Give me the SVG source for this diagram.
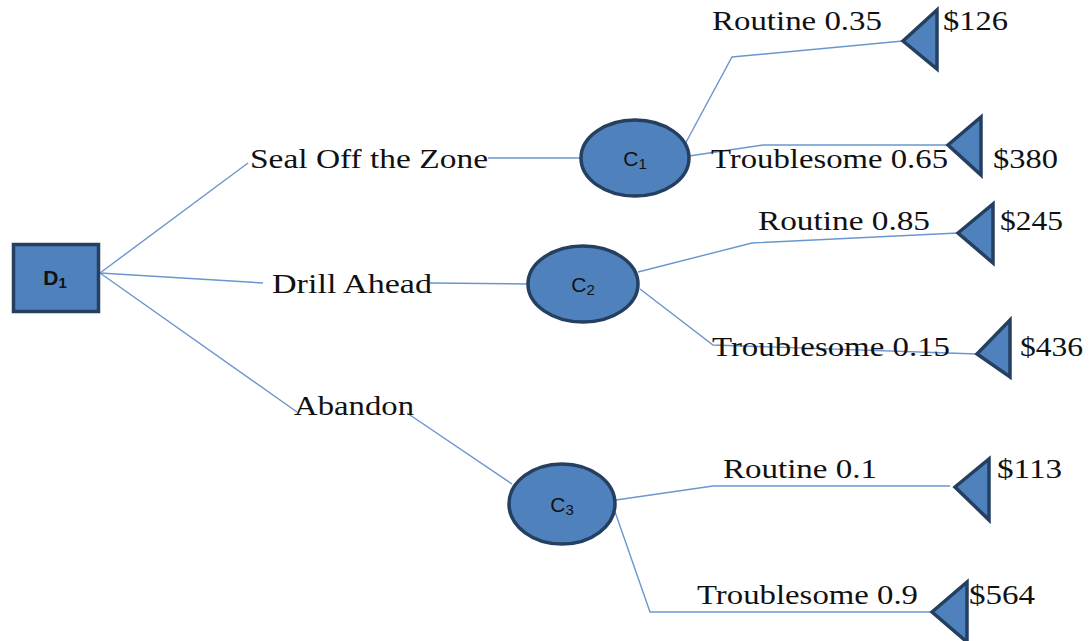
<svg xmlns="http://www.w3.org/2000/svg" width="1090" height="641" viewBox="0 0 1090 641">
<style>
.node{fill:#4f81bd;stroke:#243f60;stroke-width:3.5}
.edge{fill:none;stroke:#6a96cf;stroke-width:1.4}
.lbl{font-family:"Liberation Serif","Times New Roman",serif;font-size:27px;fill:#111}
.nl{font-family:"Liberation Sans",Arial,sans-serif;font-size:21px;fill:#111;text-anchor:middle}
.sub{font-size:15px}
</style>
<rect width="1090" height="641" fill="#fff"/>
<g id="connectors">
<polyline class="edge" points="100,273 248,163"/>
<polyline class="edge" points="100,273 263,283"/>
<polyline class="edge" points="100,273 297,412"/>
<polyline class="edge" points="488,158 580,158"/>
<polyline class="edge" points="430,283 527,284"/>
<polyline class="edge" points="407,413 512,484"/>
<polyline class="edge" points="684,146 732,57 903,41"/>
<polyline class="edge" points="689,156 763,145 948,145"/>
<polyline class="edge" points="638,272 752,243 958,233"/>
<polyline class="edge" points="640,289 713,345 977,354"/>
<polyline class="edge" points="616,500 713,486 950,486"/>
<polyline class="edge" points="613,506 650,612 932,612"/>
</g>
<g id="D1">
<rect class="node" x="13.5" y="244.5" width="85" height="67"/>
<text class="nl" x="55" y="285" font-weight="bold" font-size="22">D<tspan class="sub" dy="3">1</tspan></text>
</g>
<g id="C1">
<ellipse class="node" cx="635" cy="158" rx="54" ry="38"/>
<text class="nl" x="635" y="166">C<tspan class="sub" dy="3">1</tspan></text>
</g>
<g id="C2">
<ellipse class="node" cx="583" cy="284" rx="55" ry="38"/>
<text class="nl" x="583" y="292">C<tspan class="sub" dy="3">2</tspan></text>
</g>
<g id="C3">
<ellipse class="node" cx="562" cy="504" rx="53" ry="40"/>
<text class="nl" x="562" y="512">C<tspan class="sub" dy="3">3</tspan></text>
</g>
<g id="T1"><polygon class="node" points="903,41 937,10 937,69"/></g>
<g id="T2"><polygon class="node" points="948,145 981,117 981,175"/></g>
<g id="T3"><polygon class="node" points="958,233 993,204 993,263"/></g>
<g id="T4"><polygon class="node" points="977,354 1010,320 1010,377"/></g>
<g id="T5"><polygon class="node" points="955,487 989,459 989,520"/></g>
<g id="T6"><polygon class="node" points="932,612 967,582 967,642"/></g>
<g id="labels">
<text class="lbl" x="250" y="168" textLength="238" lengthAdjust="spacingAndGlyphs">Seal Off the Zone</text>
<text class="lbl" x="272" y="293" textLength="160" lengthAdjust="spacingAndGlyphs">Drill Ahead</text>
<text class="lbl" x="294" y="415" textLength="120" lengthAdjust="spacingAndGlyphs">Abandon</text>
<text class="lbl" x="712" y="30" textLength="170" lengthAdjust="spacingAndGlyphs">Routine 0.35</text>
<text class="lbl" x="943" y="30" textLength="65" lengthAdjust="spacingAndGlyphs">$126</text>
<text class="lbl" x="711" y="168" textLength="237" lengthAdjust="spacingAndGlyphs">Troublesome 0.65</text>
<text class="lbl" x="993" y="168" textLength="65" lengthAdjust="spacingAndGlyphs">$380</text>
<text class="lbl" x="758" y="230" textLength="172" lengthAdjust="spacingAndGlyphs">Routine 0.85</text>
<text class="lbl" x="1000" y="230" textLength="63" lengthAdjust="spacingAndGlyphs">$245</text>
<text class="lbl" x="712" y="356" textLength="238" lengthAdjust="spacingAndGlyphs">Troublesome 0.15</text>
<text class="lbl" x="1020" y="356" textLength="63" lengthAdjust="spacingAndGlyphs">$436</text>
<text class="lbl" x="723" y="478" textLength="154" lengthAdjust="spacingAndGlyphs">Routine 0.1</text>
<text class="lbl" x="997" y="478" textLength="65" lengthAdjust="spacingAndGlyphs">$113</text>
<text class="lbl" x="697" y="604" textLength="221" lengthAdjust="spacingAndGlyphs">Troublesome 0.9</text>
<text class="lbl" x="969" y="604" textLength="66" lengthAdjust="spacingAndGlyphs">$564</text>
</g>
</svg>
